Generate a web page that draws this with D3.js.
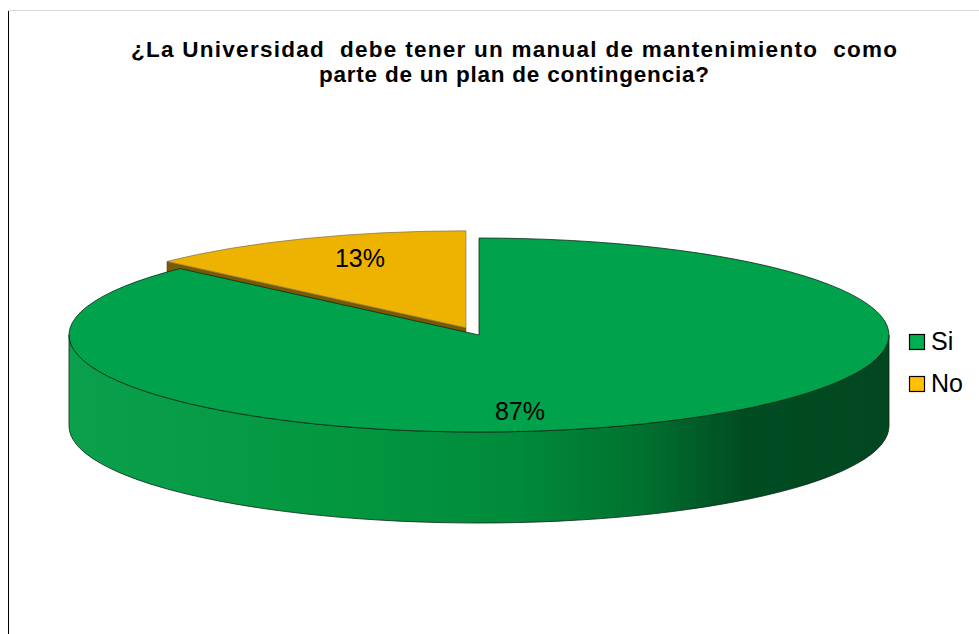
<!DOCTYPE html>
<html>
<head>
<meta charset="utf-8">
<script src="https://cdn.jsdelivr.net/npm/d3@7"></script>
<style>
  html, body { margin: 0; padding: 0; background: #fff; }
  svg { display: block; }
</style>
</head>
<body>
<svg id="chart" width="979" height="634"></svg>
<script>
// ---- data ----
const categories = ["Si", "No"];
const values = [87, 13];
const labels = ["87%", "13%"];
const titleLines = ["¿La Universidad  debe tener un manual de mantenimiento  como", "parte de un plan de contingencia?"];

const topColors = ["#00A24B", "#EEB200"];
const legendColors = ["#00B050", "#FFC000"];

const svg = d3.select("#chart");
const W = 979, H = 634;

// frame
svg.append("line").attr("x1", 8.5).attr("y1", 10).attr("x2", 8.5).attr("y2", H).attr("stroke", "#000").attr("stroke-width", 1);
svg.append("line").attr("x1", 8).attr("y1", 10.5).attr("x2", W).attr("y2", 10.5).attr("stroke", "#d9d9d9").attr("stroke-width", 1);

// title
const titleWidths = [766, 390];
svg.append("g").selectAll("text").data(titleLines).join("text")
  .attr("x", 514).attr("y", (d, i) => 57 + i * 25)
  .attr("text-anchor", "middle")
  .attr("font-family", "Liberation Sans, Arial, sans-serif")
  .attr("font-weight", "bold").attr("font-size", 22.5)
  .attr("fill", "#000")
  .attr("textLength", (d, i) => titleWidths[i])
  .attr("lengthAdjust", "spacing")
  .style("white-space", "pre")
  .text(d => d);

// pie geometry
const cx = 479, cy = 335, rx = 410, ry = 97, depth = 91;
const explodeDist = [0, 33];

const pie = d3.pie().sort(null).startAngle(0).endAngle(2 * Math.PI).value(d => d);
const arcs = pie(values);
const arcGen = d3.arc().innerRadius(0).outerRadius(rx);

function centerOf(i) {
  const a = arcs[i];
  const mid = (a.startAngle + a.endAngle) / 2;
  const d = explodeDist[i];
  return [cx + d * Math.sin(mid), cy - d * Math.cos(mid) * ry / rx];
}
function pt(c, ang, dz) {
  return [c[0] + rx * Math.sin(ang), c[1] - ry * Math.cos(ang) + (dz || 0)];
}

const defs = svg.append("defs");
const grad = defs.append("linearGradient").attr("id", "gSide")
  .attr("gradientUnits", "userSpaceOnUse")
  .attr("x1", cx - rx).attr("x2", cx + rx).attr("y1", 0).attr("y2", 0);
[[0, "#0AA04C"], [0.35, "#03963F"], [0.55, "#008A3B"], [0.7, "#00712F"], [0.82, "#004D22"], [1, "#03461F"]]
  .forEach(s => grad.append("stop").attr("offset", s[0]).attr("stop-color", s[1]));

const gPie = svg.append("g");

// --- No slice (index 1) ---
{
  const c = centerOf(1);
  const a = arcs[1];
  const p0 = pt(c, a.startAngle, 0), p1 = pt(c, a.startAngle, depth);
  gPie.append("path")
    .attr("d", `M${c[0]},${c[1]}L${p0[0]},${p0[1]}L${p1[0]},${p1[1]}L${c[0]},${c[1] + depth}Z`)
    .attr("fill", "#7A5A00").attr("stroke", "#5a4200").attr("stroke-width", 0.6);
  gPie.append("path")
    .attr("d", arcGen(a))
    .attr("transform", `translate(${c[0]},${c[1]}) scale(1,${ry / rx})`)
    .attr("fill", topColors[1])
    .attr("stroke", "#8a7a50").attr("stroke-width", 0.8)
    .attr("vector-effect", "non-scaling-stroke");
}

// --- Si slice (index 0) ---
{
  const c = centerOf(0);
  const a = arcs[0];
  const s = Math.max(a.startAngle, Math.PI / 2), e = Math.min(a.endAngle, 3 * Math.PI / 2);
  const t0 = pt(c, s, 0), t1 = pt(c, e, 0), b1 = pt(c, e, depth), b0 = pt(c, s, depth);
  gPie.append("path")
    .attr("d", `M${t0[0]},${t0[1]}A${rx},${ry} 0 0 1 ${t1[0]},${t1[1]}L${b1[0]},${b1[1]}A${rx},${ry} 0 0 0 ${b0[0]},${b0[1]}Z`)
    .attr("fill", "url(#gSide)")
    .attr("stroke", "#0b2414").attr("stroke-width", 0.8);
  gPie.append("path")
    .attr("d", arcGen(a))
    .attr("transform", `translate(${c[0]},${c[1]}) scale(1,${ry / rx})`)
    .attr("fill", topColors[0])
    .attr("stroke", "#0d2a16").attr("stroke-width", 0.8)
    .attr("vector-effect", "non-scaling-stroke");
}

// data labels
const labelPos = [[520, 420], [360, 267]];
svg.append("g").selectAll("text").data(labels).join("text")
  .attr("x", (d, i) => labelPos[i][0]).attr("y", (d, i) => labelPos[i][1])
  .attr("text-anchor", "middle")
  .attr("font-family", "Liberation Sans, Arial, sans-serif")
  .attr("font-size", 25).attr("fill", "#000")
  .text(d => d);

// legend
const leg = svg.append("g").selectAll("g").data(categories).join("g")
  .attr("transform", (d, i) => `translate(909,${334 + i * 42})`);
leg.append("rect").attr("x", 0.5).attr("y", 0.5).attr("width", 15).attr("height", 15)
  .attr("fill", (d, i) => legendColors[i]).attr("stroke", "#000").attr("stroke-width", 1.2);
leg.append("text").attr("x", 22).attr("y", 16)
  .attr("font-family", "Liberation Sans, Arial, sans-serif")
  .attr("font-size", 25).attr("fill", "#000")
  .text(d => d);
</script>
</body>
</html>
